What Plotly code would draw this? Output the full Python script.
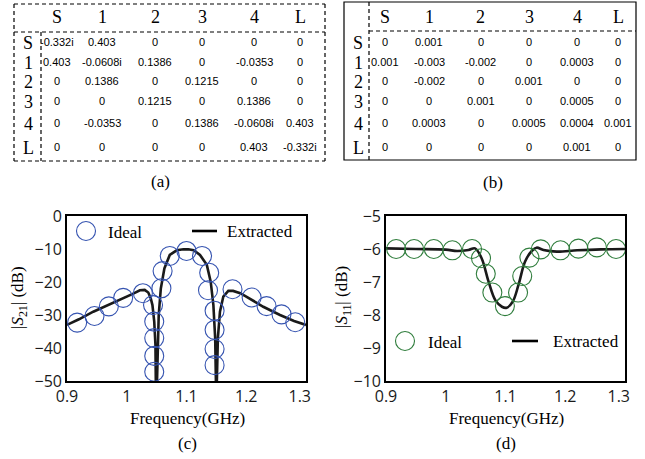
import plotly.graph_objects as go

W, H = 645, 459

# ---------------- data ----------------
row_labels = ["S", "1", "2", "3", "4", "L"]
col_labels = ["S", "1", "2", "3", "4", "L"]

table_a = [
    ["-0.332i", "0.403", "0", "0", "0", "0"],
    ["0.403", "-0.0608i", "0.1386", "0", "-0.0353", "0"],
    ["0", "0.1386", "0", "0.1215", "0", "0"],
    ["0", "0", "0.1215", "0", "0.1386", "0"],
    ["0", "-0.0353", "0", "0.1386", "-0.0608i", "0.403"],
    ["0", "0", "0", "0", "0.403", "-0.332i"],
]
table_b = [
    ["0", "0.001", "0", "0", "0", "0"],
    ["0.001", "-0.003", "-0.002", "0", "0.0003", "0"],
    ["0", "-0.002", "0", "0.001", "0", "0"],
    ["0", "0", "0.001", "0", "0.0005", "0"],
    ["0", "0.0003", "0", "0.0005", "0.0004", "0.001"],
    ["0", "0", "0", "0", "0.001", "0"],
]

# (c) |S21|
c_ideal_freq = [0.917, 0.946, 0.970, 0.994, 1.027, 1.044, 1.046, 1.046, 1.046, 1.046,
                1.058, 1.060, 1.072, 1.100, 1.126, 1.138, 1.136, 1.147, 1.147, 1.147,
                1.147, 1.177, 1.209, 1.234, 1.259, 1.282]
c_ideal_s21 = [-32.3, -30.3, -27.4, -24.8, -23.4, -27.0, -32.0, -37.0, -42.4, -47.2,
               -21.9, -16.7, -12.1, -10.6, -12.1, -17.2, -22.5, -28.7, -34.5, -40.3,
               -45.2, -22.2, -24.7, -27.3, -29.8, -32.2]
c_ext_freq = [0.900, 0.920, 0.944, 0.965, 0.989, 1.010, 1.022, 1.030, 1.036, 1.040, 1.043,
              1.046, 1.048, 1.0492, 1.0498, 1.0504, 1.0516, 1.0535, 1.057, 1.063,
              1.072, 1.0836, 1.095, 1.103, 1.112, 1.1226, 1.134, 1.1405, 1.145,
              1.148, 1.1494, 1.150, 1.1506, 1.1525, 1.156, 1.1616, 1.170, 1.178,
              1.190, 1.200, 1.2285, 1.2565, 1.280, 1.300]
c_ext_s21 = [-33.0, -31.3, -29.0, -27.3, -25.5, -23.6, -22.5, -22.4, -23.2, -24.8, -27.0,
             -32.0, -39.0, -52.0, -70.0, -52.0, -39.0, -30.0, -22.0, -15.9,
             -11.8, -10.4, -10.1, -10.1, -10.4, -11.8, -14.8, -19.9, -27.0,
             -37.0, -52.0, -70.0, -52.0, -37.0, -29.0, -24.4, -22.7, -22.7,
             -23.4, -24.4, -27.5, -30.0, -31.8, -33.0]

# (d) |S11|
d_ideal_freq = [0.917, 0.947, 0.980, 1.011, 1.044, 1.059, 1.067, 1.078, 1.099,
                1.121, 1.128, 1.140, 1.159, 1.192, 1.222, 1.253, 1.285]
d_ideal_s11 = [-6.00, -6.00, -6.00, -6.04, -6.00, -6.28, -6.75, -7.32, -7.73,
               -7.32, -6.82, -6.26, -6.01, -6.04, -5.99, -5.95, -6.00]
d_ext_freq = [0.900, 0.950, 1.000, 1.019, 1.038, 1.049, 1.060, 1.0717, 1.083, 1.094,
              1.102, 1.112, 1.1217, 1.1328, 1.144, 1.152, 1.1636, 1.186, 1.220, 1.260, 1.300]
d_ext_s11 = [-5.98, -6.00, -6.02, -6.06, -6.03, -5.98, -6.28, -6.99, -7.55, -7.75,
             -7.78, -7.60, -7.09, -6.38, -6.06, -5.96, -6.03, -6.08, -6.04, -6.01, -6.00]

freq_ticks = [0.9, 1.0, 1.1, 1.2, 1.3]
freq_tick_labels = ["0.9", "1", "1.1", "1.2", "1.3"]
c_y_ticks = [0, -10, -20, -30, -40, -50]
d_y_ticks = [-5, -6, -7, -8, -9, -10]

# ---------------- helpers ----------------
def X(px):
    return px / W

def Y(py):
    return 1 - py / H

SERIF = "Liberation Serif"
SANS = "Liberation Sans"
TICKF = "Open Sans"
BLUE = "#3553b0"
GREEN = "#2f7d3c"
NB = "\u00a0"

# last tick label sits slightly inside the box, as in the reference
freq_tick_text = freq_tick_labels[:4] + [freq_tick_labels[4] + NB * 3]

fig = go.Figure()

# plot (c)
fig.add_trace(go.Scatter(x=c_ext_freq, y=c_ext_s21, mode="lines",
                         line=dict(color="#1a1a1a", width=2.6),
                         xaxis="x", yaxis="y", showlegend=False))
fig.add_trace(go.Scatter(x=c_ideal_freq, y=c_ideal_s21, mode="markers",
                         marker=dict(symbol="circle-open", size=19, color=BLUE,
                                     line=dict(width=1.1, color=BLUE)),
                         cliponaxis=False,
                         xaxis="x", yaxis="y", showlegend=False))
# plot (d)
fig.add_trace(go.Scatter(x=d_ext_freq, y=d_ext_s11, mode="lines", line_shape="spline",
                         line=dict(color="#1a1a1a", width=2.6),
                         xaxis="x2", yaxis="y2", showlegend=False))
fig.add_trace(go.Scatter(x=d_ideal_freq, y=d_ideal_s11, mode="markers",
                         marker=dict(symbol="circle-open", size=19, color=GREEN,
                                     line=dict(width=1.1, color=GREEN)),
                         cliponaxis=False,
                         xaxis="x2", yaxis="y2", showlegend=False))

axis_common = dict(showgrid=False, zeroline=False, showline=True, linecolor="black",
                   linewidth=1.6, mirror=True, ticks="", automargin=False,
                   tickfont=dict(family=TICKF, size=16, color="#1a1a1a"))

fig.update_layout(
    template="none",
    width=W, height=H, margin=dict(l=0, r=0, t=0, b=0),
    paper_bgcolor="white", plot_bgcolor="white",
    xaxis=dict(domain=[X(67), X(306)], range=[0.9, 1.3], tickvals=freq_ticks,
               ticktext=freq_tick_text, anchor="y", **axis_common),
    yaxis=dict(domain=[Y(381), Y(216)], range=[-50, 0], tickvals=c_y_ticks,
               anchor="x", **axis_common),
    xaxis2=dict(domain=[X(386), X(625)], range=[0.9, 1.3], tickvals=freq_ticks,
                ticktext=freq_tick_text, anchor="y2", **axis_common),
    yaxis2=dict(domain=[Y(381), Y(216)], range=[-10, -5], tickvals=d_y_ticks,
                anchor="x2", **axis_common),
)

shapes = []
ann = []

def dash_line(x0, y0, x1, y1, dash="dash", width=1.2):
    shapes.append(dict(type="line", xref="paper", yref="paper",
                       x0=X(x0), y0=Y(y0), x1=X(x1), y1=Y(y1),
                       line=dict(color="black", width=width, dash=dash)))

def text(px, py, s, family, size, xanchor="center", color="black", angle=0):
    ann.append(dict(x=X(px), y=Y(py), xref="paper", yref="paper", text=s,
                    showarrow=False, xanchor=xanchor, yanchor="middle",
                    textangle=angle,
                    font=dict(family=family, size=size, color=color)))

# ----- table (a) -----
DASH = "4px,3px"
dash_line(14, 4, 325, 4, DASH)
dash_line(14, 161, 325, 161, DASH)
dash_line(14, 4, 14, 161, DASH)
dash_line(325, 4, 325, 161, DASH)
dash_line(14, 32, 325, 32, DASH)
dash_line(41, 32, 41, 161, DASH)

a_cols = [57, 102, 155, 202, 254, 300]
b_cols = [385, 429, 481, 529, 577, 618]
rows_y = [43, 63, 82, 102, 124, 148]
head_y = 17

for j, lab in enumerate(col_labels):
    text(a_cols[j], head_y, lab, SERIF, 18)
    text(b_cols[j], head_y, lab, SERIF, 18)
for i, lab in enumerate(row_labels):
    text(28, rows_y[i], lab, SERIF, 18)
    text(358, rows_y[i], lab, SERIF, 18)
    for j in range(6):
        text(a_cols[j], rows_y[i] - 1, table_a[i][j], SANS, 11)
        text(b_cols[j], rows_y[i] - 1, table_b[i][j], SANS, 11)

# ----- table (b) -----
shapes.append(dict(type="rect", xref="paper", yref="paper",
                   x0=X(344), y0=Y(160), x1=X(636), y1=Y(2),
                   line=dict(color="black", width=1.2)))
dash_line(369, 2, 369, 160, DASH)
dash_line(369, 31, 636, 31, DASH)

# panel labels
text(160, 181, "(a)", SERIF, 17)
text(493, 182, "(b)", SERIF, 17)
text(187, 443, "(c)", SERIF, 17)
text(506, 443, "(d)", SERIF, 17)

# axis titles
text(187, 418, "Frequency(GHz)", SERIF, 17)
text(506, 418, "Frequency(GHz)", SERIF, 17)
text(19, 298, "|<i>S</i><sub>21</sub>| (dB)", SERIF, 17, angle=-90)
text(343, 297, "|<i>S</i><sub>11</sub>| (dB)", SERIF, 17, angle=-90)

# legends (c)
shapes.append(dict(type="circle", xref="paper", yref="paper",
                   x0=X(86 - 9.5), x1=X(86 + 9.5), y0=Y(231 + 9.5), y1=Y(231 - 9.5),
                   line=dict(color=BLUE, width=1.1)))
text(106, 232, "Ideal", SERIF, 17, xanchor="left")
dash_line(192, 231, 217, 231, "solid", 2.6)
text(225, 231, "Extracted", SERIF, 17, xanchor="left")
# legends (d)
shapes.append(dict(type="circle", xref="paper", yref="paper",
                   x0=X(405 - 9.5), x1=X(405 + 9.5), y0=Y(341 + 9.5), y1=Y(341 - 9.5),
                   line=dict(color=GREEN, width=1.1)))
text(426, 342, "Ideal", SERIF, 17, xanchor="left")
dash_line(512, 341, 538, 341, "solid", 2.6)
text(551, 341, "Extracted", SERIF, 17, xanchor="left")

fig.update_layout(shapes=shapes, annotations=ann)
fig.write_html("out.html", config={"displayModeBar": False},
               post_script="document.body.style.margin='0px';document.body.style.padding='0px';document.body.style.overflow='hidden';")
